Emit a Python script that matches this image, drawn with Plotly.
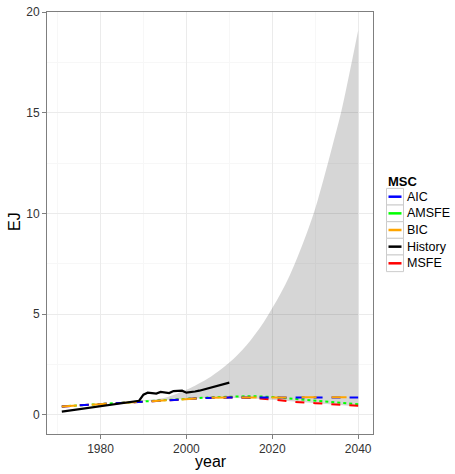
import plotly.graph_objects as go

# ---- data ----
hist_years = list(range(1971, 2011))
history = [0.16, 0.19, 0.22, 0.25, 0.28, 0.31, 0.34, 0.37, 0.40, 0.43,
           0.46, 0.48, 0.51, 0.54, 0.57, 0.60, 0.62, 0.65, 0.70, 1.00,
           1.10, 1.08, 1.06, 1.14, 1.12, 1.08, 1.18, 1.20, 1.20, 1.10,
           1.12, 1.16, 1.20, 1.26, 1.32, 1.37, 1.44, 1.49, 1.56, 1.60]

model_years = [1971, 1975, 1980, 1985, 1989, 1990, 1995, 2000, 2005, 2010,
               2015, 2020, 2025, 2030, 2035, 2040]
aic   = [0.42, 0.47, 0.54, 0.61, 0.67, 0.69, 0.75, 0.80, 0.84, 0.86,
         0.86, 0.86, 0.86, 0.86, 0.86, 0.86]
bic   = [0.42, 0.47, 0.54, 0.61, 0.67, 0.69, 0.75, 0.80, 0.84, 0.86,
         0.87, 0.87, 0.87, 0.87, 0.87, 0.87]
amsfe = [0.42, 0.47, 0.54, 0.61, 0.67, 0.69, 0.75, 0.81, 0.86, 0.90,
         0.93, 0.89, 0.80, 0.71, 0.61, 0.53]
msfe  = [0.42, 0.47, 0.54, 0.61, 0.67, 0.69, 0.75, 0.80, 0.84, 0.86,
         0.84, 0.76, 0.65, 0.58, 0.51, 0.45]

band_years = [1990, 1995, 2000, 2002, 2005, 2008, 2010, 2012, 2014, 2016,
              2018, 2020, 2022, 2024, 2026, 2028, 2030, 2032, 2034, 2036,
              2038, 2040]
band_upper = [0.72, 0.85, 1.25, 1.45, 1.80, 2.25, 2.60, 3.00, 3.45, 4.00,
              4.60, 5.30, 6.05, 6.90, 7.90, 9.00, 10.25, 11.75, 13.35, 15.00,
              17.00, 19.10]
band_lower = [0.69, 0.75, 0.80, 0.82, 0.84, 0.85, 0.85, 0.84, 0.83, 0.81,
              0.78, 0.74, 0.70, 0.67, 0.63, 0.60, 0.57, 0.54, 0.51, 0.49,
              0.46, 0.42]

x_ticks = [1980, 2000, 2020, 2040]
y_ticks = [0, 5, 10, 15, 20]

legend_names = ["AIC", "AMSFE", "BIC", "History", "MSFE"]
legend_colors = ["#0000FF", "#00FF00", "#FFA500", "#000000", "#FF0000"]
line_dashes = {"AIC": "dash", "AMSFE": "dot", "BIC": "longdash", "MSFE": "dash"}
values = {"AIC": aic, "AMSFE": amsfe, "BIC": bic, "MSFE": msfe}
colors = dict(zip(legend_names, legend_colors))

W, H = 455, 474
ML, MR, MT, MB = 47, 82, 12, 40
PW, PH = W - ML - MR, H - MT - MB


def px_x(px):
    return (px - ML) / PW


def px_y(py):
    return (H - MB - py) / PH


fig = go.Figure()

# ribbon
fig.add_trace(go.Scatter(x=band_years, y=band_lower, mode="lines",
                         line=dict(width=0), showlegend=False, hoverinfo="skip"))
fig.add_trace(go.Scatter(x=band_years, y=band_upper, mode="lines",
                         line=dict(width=0, shape="spline"), fill="tonexty",
                         fillcolor="rgba(0,0,0,0.16)", showlegend=False,
                         hoverinfo="skip"))

# model lines
for name in ["AMSFE", "MSFE", "AIC", "BIC"]:
    fig.add_trace(go.Scatter(x=model_years, y=values[name], mode="lines",
                             line=dict(color=colors[name], width=2,
                                       dash=line_dashes[name]),
                             showlegend=False, name=name))

fig.add_trace(go.Scatter(x=hist_years, y=history, mode="lines", name="History",
                         line=dict(color="#000000", width=2.2),
                         showlegend=False))

# manual legend (ggplot-style keys)
shapes = []
annotations = [dict(text="<b>MSC</b>", xref="paper", yref="paper",
                    x=px_x(386), y=px_y(181), xanchor="left", yanchor="middle",
                    showarrow=False, font=dict(size=13, color="#000000"))]
row0, step = 196.7, 16.65
for i, name in enumerate(legend_names):
    cy = row0 + i * step
    shapes.append(dict(type="rect", xref="paper", yref="paper",
                       x0=px_x(386.5), x1=px_x(403.5),
                       y0=px_y(cy - step / 2), y1=px_y(cy + step / 2),
                       line=dict(color="#CCCCCC", width=1),
                       fillcolor="white", layer="above"))
    shapes.append(dict(type="line", xref="paper", yref="paper",
                       x0=px_x(388.5), x1=px_x(401.5),
                       y0=px_y(cy), y1=px_y(cy),
                       line=dict(color=colors[name], width=2.5), layer="above"))
    annotations.append(dict(text=name, xref="paper", yref="paper",
                            x=px_x(405), y=px_y(cy), xanchor="left",
                            yanchor="middle", showarrow=False,
                            font=dict(size=12.5, color="#000000")))

# axis titles
annotations.append(dict(text="year", xref="paper", yref="paper",
                        x=px_x(211), y=px_y(461), xanchor="center",
                        yanchor="middle", showarrow=False,
                        font=dict(size=16, color="#000000")))
annotations.append(dict(text="EJ", xref="paper", yref="paper",
                        x=px_x(14), y=px_y(222), xanchor="center",
                        yanchor="middle", showarrow=False, textangle=-90,
                        font=dict(size=16, color="#000000")))

fig.update_layout(
    width=W, height=H,
    margin=dict(l=ML, r=MR, t=MT, b=MB, autoexpand=False),
    paper_bgcolor="white", plot_bgcolor="white",
    font=dict(family="Liberation Sans, Arial, sans-serif", color="#000000"),
    showlegend=False,
    shapes=shapes, annotations=annotations,
)
fig.update_xaxes(
    range=[1967.55, 2043.45], tickvals=x_ticks, ticktext=[str(v) for v in x_ticks],
    showgrid=True, gridcolor="#EBEBEB", gridwidth=1,
    minor=dict(dtick=10, tick0=1970, showgrid=True, gridcolor="#F7F7F7", gridwidth=1),
    ticks="outside", ticklen=4, tickcolor="#7F7F7F",
    tickfont=dict(size=12, color="#333333"),
    showline=True, linecolor="#7F7F7F", linewidth=1, mirror=True,
    zeroline=False,
)
fig.update_yaxes(
    range=[-0.95, 20.0], tickvals=y_ticks, ticktext=[str(v) for v in y_ticks],
    showgrid=True, gridcolor="#EBEBEB", gridwidth=1,
    minor=dict(dtick=5, tick0=2.5, showgrid=True, gridcolor="#F7F7F7", gridwidth=1),
    ticks="outside", ticklen=4, tickcolor="#7F7F7F",
    tickfont=dict(size=12, color="#333333"),
    showline=True, linecolor="#7F7F7F", linewidth=1, mirror=True,
    zeroline=False,
)

fig.write_html("out.html")
